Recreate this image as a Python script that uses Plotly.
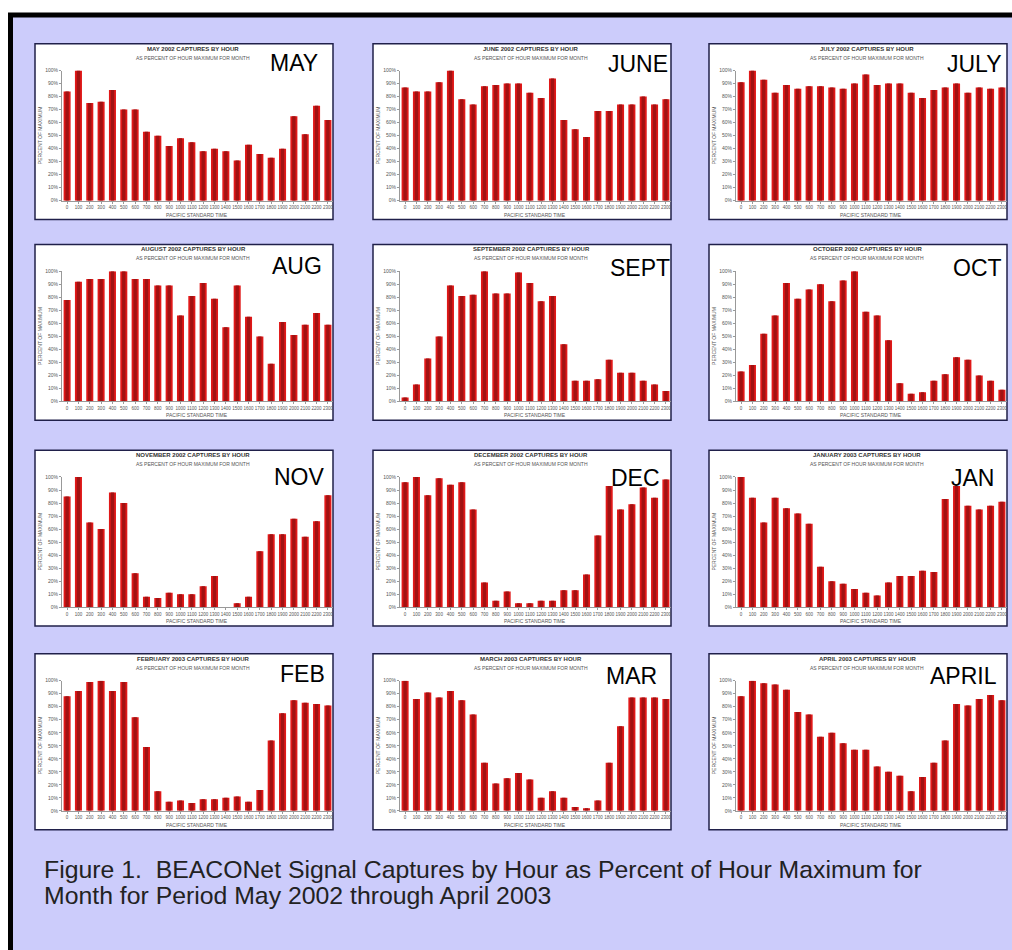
import plotly.graph_objects as go

# ---------------- data ----------------
hour_labels = [str(h * 100) for h in range(24)]
hour_index = list(range(24))
pct_ticks = list(range(0, 101, 10))
pct_labels = [f"{v}%" for v in pct_ticks]

month_labels = ["MAY", "JUNE", "JULY", "AUG", "SEPT", "OCT",
                "NOV", "DEC", "JAN", "FEB", "MAR", "APRIL"]
month_titles = ["MAY 2002", "JUNE 2002", "JULY 2002", "AUGUST 2002",
                "SEPTEMBER 2002", "OCTOBER 2002", "NOVEMBER 2002", "DECEMBER 2002",
                "JANUARY 2003", "FEBRUARY 2003", "MARCH 2003", "APRIL 2003"]

may = [84, 100, 75, 76, 85, 70, 70, 53, 50, 42, 48, 45, 38, 40, 38, 31, 43, 36, 33, 40, 65, 51, 73, 62]
june = [87, 84, 84, 91, 100, 78, 74, 88, 89, 90, 90, 83, 79, 94, 62, 55, 49, 69, 69, 74, 74, 80, 74, 78]
july = [91, 100, 93, 83, 89, 86, 88, 88, 87, 86, 90, 97, 89, 90, 90, 83, 79, 85, 87, 90, 83, 87, 86, 87]
aug = [78, 92, 94, 94, 100, 100, 94, 94, 89, 89, 66, 81, 91, 79, 57, 89, 65, 50, 29, 61, 51, 59, 68, 59]
sept = [3, 13, 33, 50, 89, 81, 82, 100, 83, 83, 99, 91, 77, 81, 44, 16, 16, 17, 32, 22, 22, 16, 13, 8]
octo = [23, 28, 52, 66, 91, 79, 86, 90, 77, 93, 100, 69, 66, 47, 14, 6, 7, 16, 21, 34, 32, 20, 16, 9]
nov = [85, 100, 65, 60, 88, 80, 26, 8, 7, 11, 10, 10, 16, 24, 0, 3, 8, 43, 56, 56, 68, 54, 66, 86]
dec = [96, 100, 86, 99, 94, 96, 75, 19, 5, 12, 3, 3, 5, 5, 13, 13, 25, 55, 93, 75, 79, 92, 84, 98]
jan = [100, 84, 65, 84, 76, 72, 64, 31, 20, 18, 14, 11, 9, 19, 24, 24, 28, 27, 83, 93, 78, 75, 78, 81]
feb = [88, 92, 99, 100, 92, 99, 72, 49, 15, 7, 8, 6, 9, 9, 10, 11, 7, 16, 54, 75, 85, 83, 82, 81]
mar = [100, 86, 91, 87, 92, 85, 74, 37, 21, 25, 29, 24, 10, 15, 10, 3, 2, 8, 37, 65, 87, 87, 87, 86]
april = [88, 100, 98, 97, 93, 76, 74, 57, 60, 52, 47, 47, 34, 30, 27, 15, 26, 37, 54, 82, 81, 86, 89, 85]

series = [may, june, july, aug, sept, octo, nov, dec, jan, feb, mar, april]

# ---------------- layout helpers ----------------
W, H = 1012, 950
col_x = [35, 373, 709]
row_y = [41, 243, 450, 655]
BOX_W, BOX_H = 298, 177
label_pos = [(268, 60), (606, 61), (945, 61),
             (270, 265), (608, 267), (951, 267),
             (272, 477), (609, 478), (949, 478),
             (278, 675), (604, 677), (928, 677)]

LAV = "#ccccfb"
OUTER = "#e01818"
INNER = "#a01212"


def px(x):
    return x / W


def py(y):
    return 1 - y / H


fig = go.Figure()
shapes = []
annotations = []

# lavender framed background
shapes.append(dict(type="rect", xref="paper", yref="paper",
                   x0=px(10.5), x1=px(1030), y0=py(12), y1=py(980),
                   fillcolor=LAV, line=dict(color="black", width=5), layer="below"))

for i, vals in enumerate(series):
    r, c = divmod(i, 3)
    x0, y0 = col_x[c], row_y[r]
    k = "" if i == 0 else str(i + 1)

    shapes.append(dict(type="rect", xref="paper", yref="paper",
                       x0=px(x0), x1=px(x0 + BOX_W), y0=py(y0 + BOX_H), y1=py(y0),
                       fillcolor="white", line=dict(color="#20204a", width=1.5), layer="below"))

    fig.add_trace(go.Bar(x=hour_index, y=vals, width=0.62, xaxis="x" + k, yaxis="y" + k,
                         marker=dict(color=OUTER, line=dict(width=0)), showlegend=False,
                         hoverinfo="skip"))
    fig.add_trace(go.Bar(x=hour_index, y=vals, width=0.3, xaxis="x" + k, yaxis="y" + k,
                         marker=dict(color=INNER, line=dict(width=0)), showlegend=False,
                         hoverinfo="skip"))

    fig.layout["xaxis" + k] = dict(
        domain=[px(x0 + 27), px(x0 + 298)], range=[-0.45, 23.45],
        anchor="y" + k, tickvals=hour_index, ticktext=hour_labels, tickangle=0,
        tickfont=dict(size=4.5, color="#555", family="Liberation Sans"),
        showline=True, linecolor="#999", linewidth=1, ticks="outside", ticklen=2,
        tickcolor="#999", showgrid=False, zeroline=False, fixedrange=True)
    fig.layout["yaxis" + k] = dict(
        domain=[py(y0 + 158), py(y0 + 27)], range=[0, 100],
        anchor="x" + k, tickvals=pct_ticks, ticktext=pct_labels,
        tickfont=dict(size=5, color="#555", family="Liberation Sans"),
        showline=True, linecolor="#999", linewidth=1, ticks="outside", ticklen=2,
        tickcolor="#999", showgrid=False, zeroline=False, fixedrange=True)

    cx = x0 + 158
    annotations.append(dict(xref="paper", yref="paper", x=px(cx), y=py(y0 + 5),
                            text="<b>" + month_titles[i] + " CAPTURES BY HOUR</b>",
                            showarrow=False, xanchor="center", yanchor="middle",
                            font=dict(size=6, color="#333", family="Liberation Sans")))
    annotations.append(dict(xref="paper", yref="paper", x=px(cx), y=py(y0 + 14),
                            text="AS PERCENT OF HOUR MAXIMUM FOR MONTH",
                            showarrow=False, xanchor="center", yanchor="middle",
                            font=dict(size=5, color="#555", family="Liberation Sans")))
    annotations.append(dict(xref="paper", yref="paper", x=px(x0 + 162), y=py(y0 + 172),
                            text="PACIFIC STANDARD TIME",
                            showarrow=False, xanchor="center", yanchor="middle",
                            font=dict(size=5, color="#555", family="Liberation Sans")))
    annotations.append(dict(xref="paper", yref="paper", x=px(x0 + 5), y=py(y0 + 92),
                            text="PERCENT OF MAXIMUM", textangle=-90,
                            showarrow=False, xanchor="center", yanchor="middle",
                            font=dict(size=5, color="#555", family="Liberation Sans")))
    lx, ly = label_pos[i]
    annotations.append(dict(xref="paper", yref="paper", x=px(lx), y=py(ly),
                            text=month_labels[i], showarrow=False,
                            xanchor="left", yanchor="middle",
                            font=dict(size=23, color="black", family="Liberation Sans")))

caption_lines = ["Figure 1.  BEACONet Signal Captures by Hour as Percent of Hour Maximum for",
                 "Month for Period May 2002 through April 2003"]
for j, line in enumerate(caption_lines):
    annotations.append(dict(xref="paper", yref="paper", x=px(42), y=py(872 + 26 * j),
                            text=line, showarrow=False, xanchor="left", yanchor="middle",
                            font=dict(size=24.8, color="#222", family="Liberation Sans")))

fig.update_layout(width=W, height=H, margin=dict(l=0, r=0, t=0, b=0),
                  paper_bgcolor="white", plot_bgcolor="rgba(0,0,0,0)",
                  barmode="overlay", shapes=shapes, annotations=annotations,
                  showlegend=False)

fig.write_html("out.html", config={"displayModeBar": False},
               post_script="document.body.style.margin='0';document.body.style.overflow='hidden';")
